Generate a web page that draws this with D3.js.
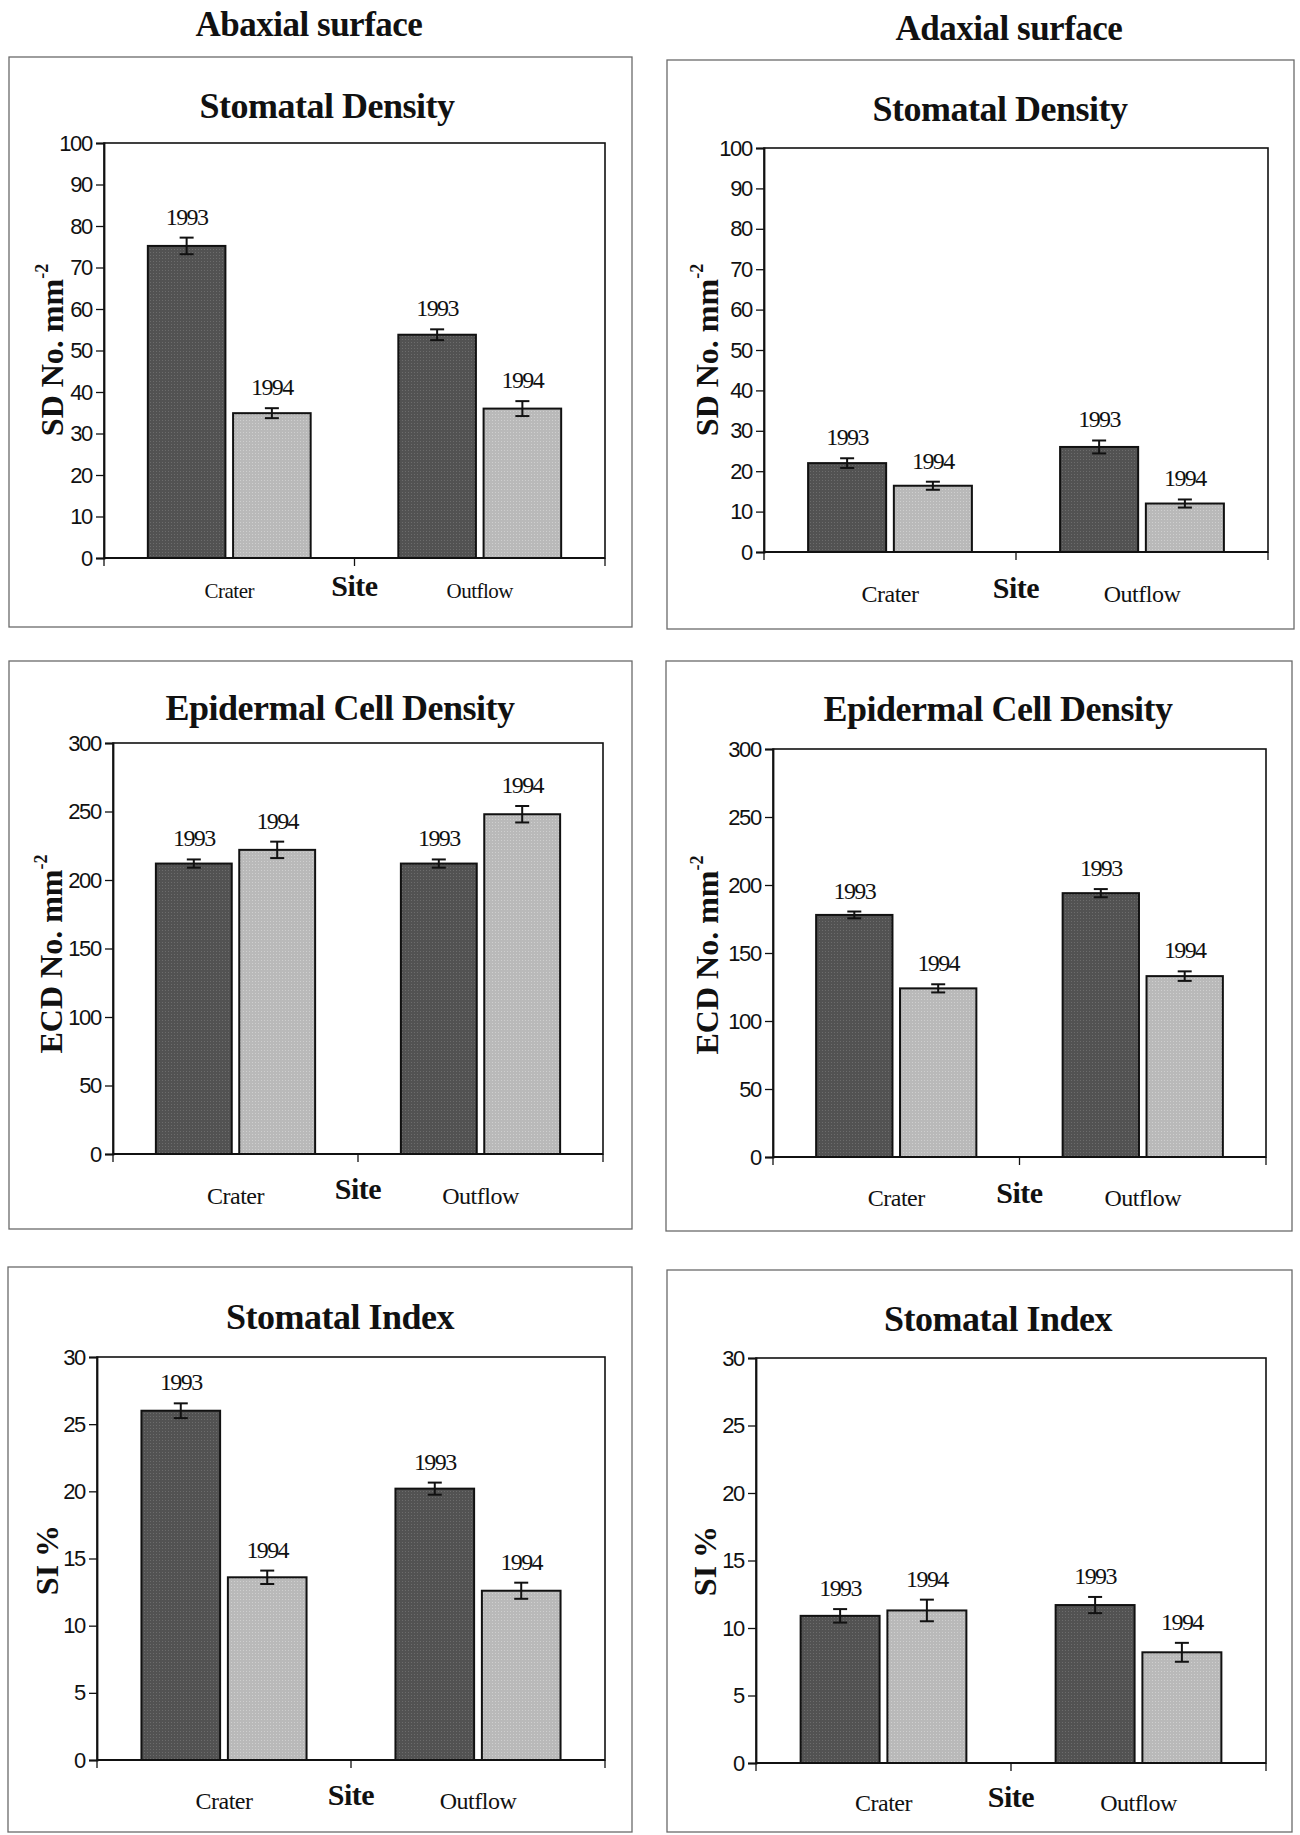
<!DOCTYPE html>
<html><head><meta charset="utf-8">
<script src="https://cdn.jsdelivr.net/npm/d3@7"></script>
<style>body{margin:0;background:#fff} svg{display:block}</style>
</head><body>
<svg id="chart" width="1300" height="1835"></svg>
<script>
// ---------- data ----------
const sites = ["Crater", "Outflow"];
const years = ["1993", "1994"];
const surfaces = ["Abaxial surface", "Adaxial surface"];
const sdTicks = [0, 10, 20, 30, 40, 50, 60, 70, 80, 90, 100];
const ecdTicks = [0, 50, 100, 150, 200, 250, 300];
const siTicks = [0, 5, 10, 15, 20, 25, 30];
// values are [site][year]
const sdAbaxial = [[75.2, 34.9], [53.8, 36.0]];
const sdAbaxialErr = [[2.0, 1.2], [1.3, 1.8]];
const sdAdaxial = [[22.0, 16.4], [26.0, 12.0]];
const sdAdaxialErr = [[1.2, 1.0], [1.6, 1.0]];
const ecdAbaxial = [[212, 222], [212, 248]];
const ecdAbaxialErr = [[3, 6], [3, 6]];
const ecdAdaxial = [[178, 124], [194, 133]];
const ecdAdaxialErr = [[2.5, 3], [3, 3.5]];
const siAbaxial = [[26.0, 13.6], [20.2, 12.6]];
const siAbaxialErr = [[0.55, 0.5], [0.45, 0.6]];
const siAdaxial = [[10.9, 11.3], [11.7, 8.2]];
const siAdaxialErr = [[0.5, 0.8], [0.6, 0.7]];

// ---------- layout ----------
const panels = [
  {title: "Stomatal Density", ylab: "SD No. mm", sup: "-2", ticks: sdTicks, mean: sdAbaxial, err: sdAbaxialErr,
   box: [9, 57, 632, 627], plot: [104, 143, 605, 558], tcx: 327, ty: 118, lbx: 63, lcy: 350, catSize: 21, catDy: 40, siteDy: 38},
  {title: "Stomatal Density", ylab: "SD No. mm", sup: "-2", ticks: sdTicks, mean: sdAdaxial, err: sdAdaxialErr,
   box: [667, 60, 1294, 629], plot: [764, 148, 1268, 552], tcx: 1000, ty: 121, lbx: 718, lcy: 350, catSize: 24, catDy: 50, siteDy: 46},
  {title: "Epidermal Cell Density", ylab: "ECD No. mm", sup: "-2", ticks: ecdTicks, mean: ecdAbaxial, err: ecdAbaxialErr,
   box: [9, 661, 632, 1229], plot: [113, 743, 603, 1154], tcx: 340, ty: 720, lbx: 62, lcy: 954, catSize: 24, catDy: 50, siteDy: 45},
  {title: "Epidermal Cell Density", ylab: "ECD No. mm", sup: "-2", ticks: ecdTicks, mean: ecdAdaxial, err: ecdAdaxialErr,
   box: [666, 661, 1292, 1231], plot: [773, 749, 1266, 1157], tcx: 998, ty: 721, lbx: 718, lcy: 955, catSize: 24, catDy: 49, siteDy: 46},
  {title: "Stomatal Index", ylab: "SI %", sup: "", ticks: siTicks, mean: siAbaxial, err: siAbaxialErr,
   box: [8, 1267, 632, 1832], plot: [97, 1357, 605, 1760], tcx: 340, ty: 1329, lbx: 58, lcy: 1560, catSize: 24, catDy: 49, siteDy: 45},
  {title: "Stomatal Index", ylab: "SI %", sup: "", ticks: siTicks, mean: siAdaxial, err: siAdaxialErr,
   box: [667, 1270, 1292, 1832], plot: [756, 1358, 1266, 1763], tcx: 998, ty: 1331, lbx: 716, lcy: 1561, catSize: 24, catDy: 48, siteDy: 44}
];
const headerPos = [{cx: 309, y: 36}, {cx: 1009, y: 40}];

const svg = d3.select("#chart");
const serif = "'Liberation Serif','Times New Roman',serif";
const sans = "'Liberation Sans',Arial,sans-serif";

// textured fills
const defs = svg.append("defs");
function pattern(id, base, dot) {
  const p = defs.append("pattern").attr("id", id).attr("patternUnits", "userSpaceOnUse")
    .attr("width", 3).attr("height", 3);
  p.append("rect").attr("width", 3).attr("height", 3).attr("fill", base);
  p.append("rect").attr("width", 1).attr("height", 1).attr("fill", dot);
}
pattern("darkFill", "#525252", "#6c6c6c");
pattern("lightFill", "#b9b9b9", "#cfcfcf");
const fills = {"1993": "url(#darkFill)", "1994": "url(#lightFill)"};

// surface headers
svg.selectAll("text.header").data(surfaces).join("text")
  .attr("class", "header")
  .attr("x", (d, i) => headerPos[i].cx).attr("y", (d, i) => headerPos[i].y)
  .attr("text-anchor", "middle").attr("font-family", serif).attr("font-weight", "bold")
  .attr("font-size", 35).attr("letter-spacing", -0.5).attr("fill", "#111").text(d => d);

panels.forEach(P => {
  const g = svg.append("g");
  const [bx0, by0, bx1, by1] = P.box;
  g.append("rect").attr("x", bx0).attr("y", by0).attr("width", bx1 - bx0).attr("height", by1 - by0)
    .attr("fill", "none").attr("stroke", "#6a6a6a").attr("stroke-width", 1.3);

  const [px0, py0, px1, py1] = P.plot;
  const x0 = d3.scaleBand().domain(sites).range([px0, px1]).paddingInner(0.35).paddingOuter(0.175);
  const x1 = d3.scaleBand().domain(years).range([0, x0.bandwidth()]).paddingInner(0.09);
  const y = d3.scaleLinear().domain([P.ticks[0], P.ticks[P.ticks.length - 1]]).range([py1, py0]);

  // title
  g.append("text").attr("x", P.tcx).attr("y", P.ty).attr("text-anchor", "middle")
    .attr("font-family", serif).attr("font-weight", "bold").attr("font-size", 36)
    .attr("letter-spacing", -0.5).attr("fill", "#111").text(P.title);

  // plot frame
  g.append("rect").attr("x", px0).attr("y", py0).attr("width", px1 - px0).attr("height", py1 - py0)
    .attr("fill", "none").attr("stroke", "#111").attr("stroke-width", 1.6);

  // bars
  const rows = [];
  sites.forEach((s, si) => years.forEach((yr, yi) => rows.push({site: s, year: yr, v: P.mean[si][yi], e: P.err[si][yi]})));
  const bars = g.append("g");
  bars.selectAll("rect").data(rows).join("rect")
    .attr("x", d => x0(d.site) + x1(d.year)).attr("width", x1.bandwidth())
    .attr("y", d => y(d.v)).attr("height", d => y(0) - y(d.v))
    .attr("fill", d => fills[d.year]).attr("stroke", "#111").attr("stroke-width", 2);

  // error bars
  const eb = g.append("g").attr("stroke", "#111").attr("stroke-width", 2);
  rows.forEach(d => {
    const cx = x0(d.site) + x1(d.year) + x1.bandwidth() / 2;
    eb.append("line").attr("x1", cx).attr("x2", cx).attr("y1", y(d.v + d.e)).attr("y2", y(d.v - d.e));
    eb.append("line").attr("x1", cx - 7).attr("x2", cx + 7).attr("y1", y(d.v + d.e)).attr("y2", y(d.v + d.e));
    eb.append("line").attr("x1", cx - 7).attr("x2", cx + 7).attr("y1", y(d.v - d.e)).attr("y2", y(d.v - d.e));
  });

  // year labels
  g.append("g").selectAll("text").data(rows).join("text")
    .attr("x", d => x0(d.site) + x1(d.year) + x1.bandwidth() / 2)
    .attr("y", d => y(d.v + d.e) - 13)
    .attr("text-anchor", "middle").attr("font-family", serif).attr("font-size", 24)
    .attr("letter-spacing", -1.6).attr("fill", "#111").text(d => d.year);

  // y axis
  const ya = g.append("g").attr("transform", `translate(${px0},0)`)
    .call(d3.axisLeft(y).tickValues(P.ticks).tickSize(8).tickPadding(4));
  ya.select(".domain").attr("stroke", "#111").attr("stroke-width", 1.8);
  ya.selectAll(".tick line").attr("stroke", "#111").attr("stroke-width", 1.3);
  ya.selectAll(".tick text").attr("font-family", sans).attr("font-size", 22)
    .attr("letter-spacing", -1.3).attr("fill", "#111");

  // x axis line with ticks at category boundaries
  const xa = g.append("g");
  xa.append("line").attr("x1", px0).attr("x2", px1).attr("y1", py1).attr("y2", py1)
    .attr("stroke", "#111").attr("stroke-width", 2);
  const bounds = [px0, (x0("Crater") + x0.bandwidth() + x0("Outflow")) / 2, px1];
  xa.selectAll("line.xt").data(bounds).join("line").attr("class", "xt")
    .attr("x1", d => d).attr("x2", d => d).attr("y1", py1).attr("y2", py1 + 8)
    .attr("stroke", "#111").attr("stroke-width", 1.3);
  xa.selectAll("text.cat").data(sites).join("text").attr("class", "cat")
    .attr("x", d => x0(d) + x0.bandwidth() / 2).attr("y", py1 + P.catDy)
    .attr("text-anchor", "middle").attr("font-family", serif).attr("font-size", P.catSize)
    .attr("letter-spacing", -0.5).attr("fill", "#111").text(d => d);
  xa.append("text").attr("x", bounds[1]).attr("y", py1 + P.siteDy)
    .attr("text-anchor", "middle").attr("font-family", serif).attr("font-weight", "bold")
    .attr("font-size", 30).attr("letter-spacing", -0.5).attr("fill", "#111").text("Site");

  // y axis title
  const yt = g.append("text").attr("transform", `translate(${P.lbx},${P.lcy}) rotate(-90)`)
    .attr("text-anchor", "middle").attr("font-family", serif).attr("font-weight", "bold")
    .attr("font-size", 32).attr("fill", "#111");
  yt.append("tspan").text(P.ylab);
  if (P.sup) yt.append("tspan").attr("font-size", 18).attr("dy", -15).text(P.sup);
});
</script>
</body></html>
